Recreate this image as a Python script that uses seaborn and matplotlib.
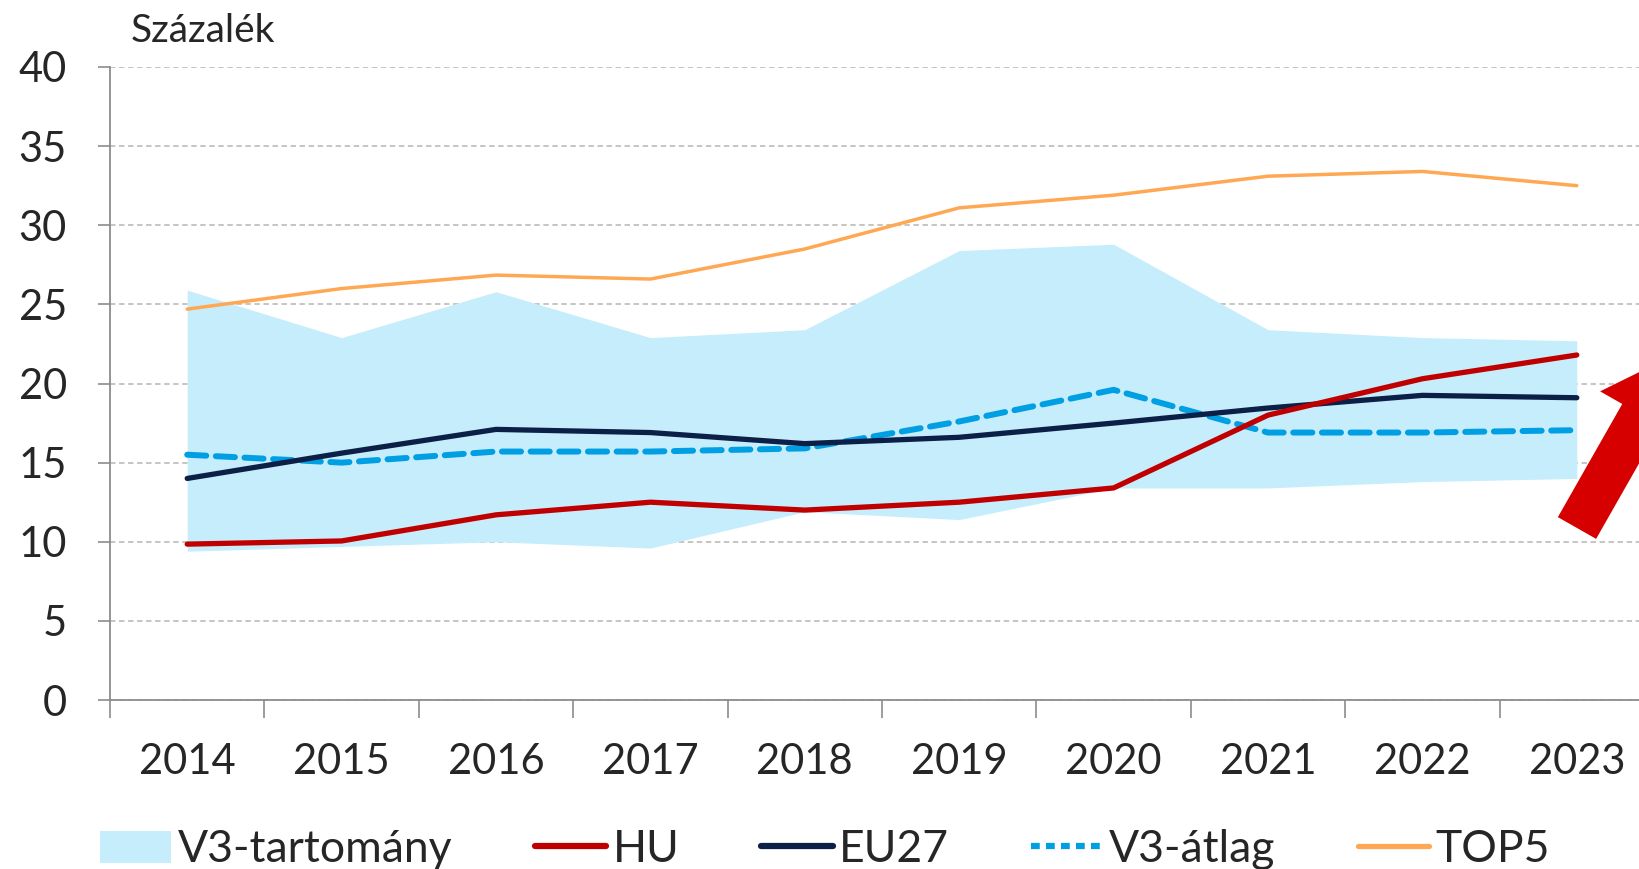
import numpy as np
import pandas as pd
import matplotlib
matplotlib.use("Agg")
import matplotlib.pyplot as plt
import seaborn as sns
from matplotlib.patches import Patch, FancyArrow
from matplotlib.lines import Line2D
from matplotlib.transforms import IdentityTransform

years = [2014, 2015, 2016, 2017, 2018, 2019, 2020, 2021, 2022, 2023]
v3_low = [9.4, 9.7, 10.0, 9.6, 11.9, 11.4, 13.4, 13.4, 13.8, 14.0]
v3_high = [25.9, 22.9, 25.8, 22.9, 23.4, 28.4, 28.8, 23.4, 22.9, 22.7]
hu = [9.85, 10.05, 11.7, 12.5, 12.0, 12.5, 13.4, 18.0, 20.3, 21.8]
eu27 = [14.0, 15.6, 17.1, 16.9, 16.2, 16.6, 17.5, 18.45, 19.25, 19.1]
v3_avg = [15.5, 15.0, 15.7, 15.7, 15.9, 17.6, 19.6, 16.9, 16.9, 17.05]
top5 = [24.7, 26.0, 26.85, 26.6, 28.5, 31.1, 31.9, 33.1, 33.4, 32.5]

labels = ["V3-tartomány", "HU", "EU27", "V3-átlag", "TOP5"]
y_title = "Százalék"

sns.set_style("white")
plt.rcParams['font.family'] = ['Lato', 'DejaVu Sans']

fig = plt.figure(figsize=(16.4, 8.69), dpi=100)
ax = fig.add_axes([110/1640, 169/869, 1544/1640, 633/869])

df = pd.DataFrame({"year": years, "HU": hu, "EU27": eu27, "V3": v3_avg, "TOP5": top5})

ax.fill_between(years, v3_low, v3_high, color="#C6EDFB", lw=0, zorder=1)
sns.lineplot(data=df, x="year", y="TOP5", ax=ax, color="#FFA854", lw=2.5, zorder=3)
sns.lineplot(data=df, x="year", y="V3", ax=ax, color="#009FE3", lw=4.3, zorder=4,
             dashes=False)
ax.lines[-1].set_dashes([3.2, 1.6])
ax.lines[-1].set_dash_capstyle("round")
sns.lineplot(data=df, x="year", y="EU27", ax=ax, color="#0C1F47", lw=3.8, zorder=5)
sns.lineplot(data=df, x="year", y="HU", ax=ax, color="#C00000", lw=3.8, zorder=6)
for ln in ax.lines:
    ln.set_solid_capstyle("round")

ax.set_xlim(2013.5, 2023.5)
ax.set_ylim(0, 40)
ax.set_yticks(np.arange(0, 41, 5))
ax.set_xticks(np.arange(2013.5, 2024, 1))
ax.set_xticklabels([])
ax.set_xticks(years, minor=True)
ax.set_xticklabels([str(y) for y in years], minor=True)
ax.tick_params(axis="x", which="major", direction="out", length=13, width=1.2, color="#8C8C8C", bottom=True)
ax.tick_params(axis="x", which="minor", length=0, pad=31, labelsize=30)
ax.tick_params(axis="y", direction="out", length=9, width=1.2, color="#8C8C8C", pad=22, labelsize=30, left=True)
ax.set_xlabel("")
ax.set_ylabel("")

ax.yaxis.grid(True, color="#C0C0C0", linestyle=(0, (3, 2)), lw=1.3, zorder=0)
ax.set_axisbelow(True)
for s in ["top", "right"]:
    ax.spines[s].set_visible(False)
for s in ["left", "bottom"]:
    ax.spines[s].set_color("#8C8C8C")
    ax.spines[s].set_linewidth(1.3)

fig.text(131/1640, 1 - 42/869, y_title, fontsize=28, va="baseline", ha="left")

handles = [
    Patch(facecolor="#C6EDFB", edgecolor="none"),
    Line2D([], [], color="#C00000", lw=4.5),
    Line2D([], [], color="#0C1F47", lw=4.5),
    Line2D([], [], color="#009FE3", lw=4.5, dashes=[1.4, 1.0]),
    Line2D([], [], color="#FFA854", lw=3.8),
]
fig.legend(handles, labels, ncol=5, loc="center left", bbox_to_anchor=(0.061, 0.022),
           frameon=False, fontsize=32, handlelength=1.6, handleheight=0.75,
           handletextpad=0.15, columnspacing=1.85, borderpad=0, borderaxespad=0)

# decorative red arrow
arrow = FancyArrow(1577, 341, 99, 174, width=44, head_width=95, head_length=70,
                   length_includes_head=True, color="#D60000", lw=0,
                   transform=IdentityTransform())
fig.add_artist(arrow)

fig.savefig("out.png", dpi=100)
